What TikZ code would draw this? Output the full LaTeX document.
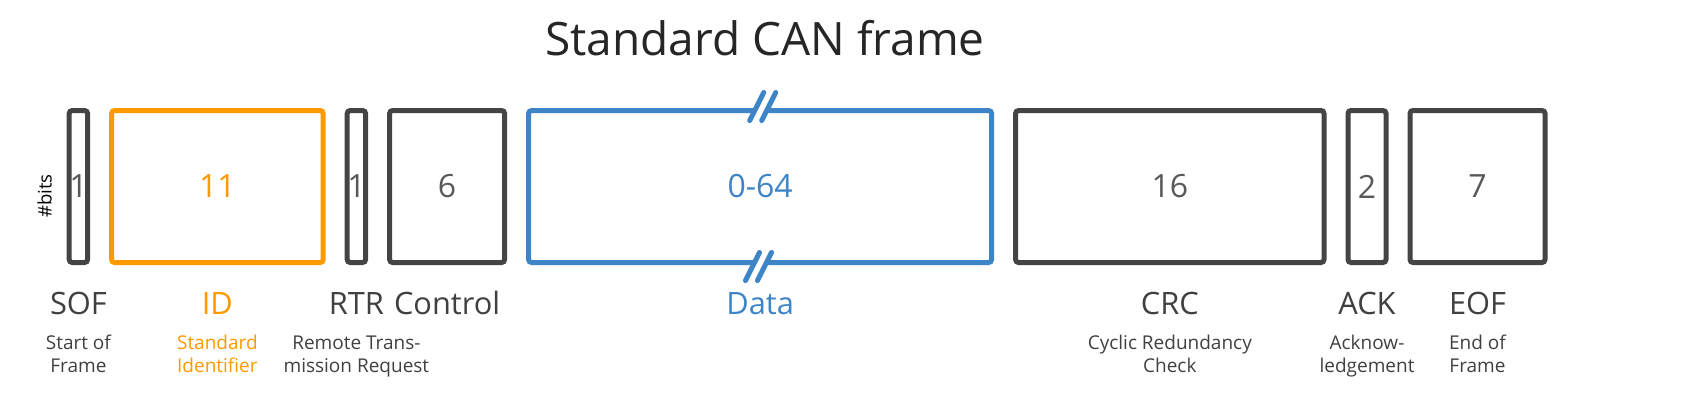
\documentclass[tikz,border=0pt]{standalone}
\usepackage{fontspec}
\setmainfont{Open Sans}
\usetikzlibrary{positioning}
\definecolor{boxgrey}{HTML}{444444}
\definecolor{txtgrey}{HTML}{404040}
\definecolor{numgrey}{HTML}{595959}
\definecolor{idorange}{HTML}{FF9900}
\definecolor{datablue}{HTML}{3D85C6}
\newcommand\nbits[1]{\makebox[0pt]{#1}}

\begin{document}
\begin{tikzpicture}[
		field/.style = {
			draw=boxgrey, rectangle, rounded corners=1.5pt,
			line width=2.5pt, text=numgrey,
			minimum height=76pt,
			outer sep=0pt, inner sep=0pt,
			node distance=12pt,
			font=\fontsize{16}{19}\selectfont
		},
		fname/.style = {anchor=base, text=txtgrey, inner sep=0pt,
			font=\fontsize{15.4}{18}\selectfont},
		fdesc/.style = {anchor=base, align=center, text=txtgrey, inner sep=0pt,
			font=\fontsize{9.5}{11.35}\selectfont},
		slash/.style = {datablue, line width=2.5pt, line cap=round}
		]
		\useasboundingbox (0,0) rectangle (846pt,-204.5pt);
		\coordinate (namerow) at (0,-157pt);
		\coordinate (descrow) at (0,-186pt);

		\node[anchor=base, text=black!85, font=\fontsize{23}{27}\selectfont] (title) at (382.5pt,-27.5pt) {Standard CAN frame};

		\node[field, minimum width=9.2pt] (sof) at (39.2pt,-93.25pt) {\nbits{1}};
		\node[field, minimum width=105.8pt, draw=idorange, text=idorange, right=of sof] (id) {\nbits{11}};
		\node[field, minimum width=9.2pt, right=of id] (rtr) {\nbits{1}};
		\node[field, minimum width=57.5pt, right=of rtr] (ctrl) {\nbits{6}};
		\node[field, minimum width=231.5pt, draw=datablue, text=datablue, right=of ctrl] (data) {\nbits{0-64}};
		\node[field, minimum width=154.2pt, right=of data] (crc) {\nbits{16}};
		\node[field, minimum width=19pt, right=of crc] (ack) {\nbits{2}};
		\node[field, minimum width=67.5pt, right=of ack] (eof) {\nbits{7}};

		\node[rotate=90, inner sep=0pt, font=\fontsize{9.3}{11}\selectfont] (bits) at (22.3pt,-98pt) {\#bits};

		\foreach \p/\dx/\dy in {north/1.3pt/2pt, south/-0.8pt/-2pt} {
			\fill[white, shift={(data.\p)}, xshift=\dx, yshift=\dy] (-6.5pt,-7pt) -- (0.5pt,7pt) -- (6.5pt,7pt) -- (-0.5pt,-7pt) -- cycle;
			\draw[slash, shift={(data.\p)}, xshift=\dx, yshift=\dy] (-6.5pt,-7pt) -- (0.5pt,7pt) (-0.5pt,-7pt) -- (6.5pt,7pt);
		}

		\node[fname] (sofname) at (sof |- namerow) {SOF};
		\node[fname, text=idorange] (idname) at (id |- namerow) {ID};
		\node[fname] (rtrname) at (rtr |- namerow) {RTR};
		\node[fname] (ctrlname) at (ctrl |- namerow) {Control};
		\node[fname, text=datablue] (dataname) at (data |- namerow) {Data};
		\node[fname] (crcname) at (crc |- namerow) {CRC};
		\node[fname] (ackname) at (ack |- namerow) {ACK};
		\node[fname] (eofname) at (eof |- namerow) {EOF};

		\node[fdesc] (sofdesc) at (sof |- descrow) {Start of\\Frame};
		\node[fdesc, text=idorange] (iddesc) at (id |- descrow) {Standard\\Identifier};
		\node[fdesc] (rtrdesc) at (rtr |- descrow) {Remote Trans-\\mission Request};
		\node[fdesc] (crcdesc) at (crc |- descrow) {Cyclic Redundancy\\Check};
		\node[fdesc] (ackdesc) at (ack |- descrow) {Acknow-\\ledgement};
		\node[fdesc] (eofdesc) at (eof |- descrow) {End of\\Frame};
	\end{tikzpicture}
\end{document}
